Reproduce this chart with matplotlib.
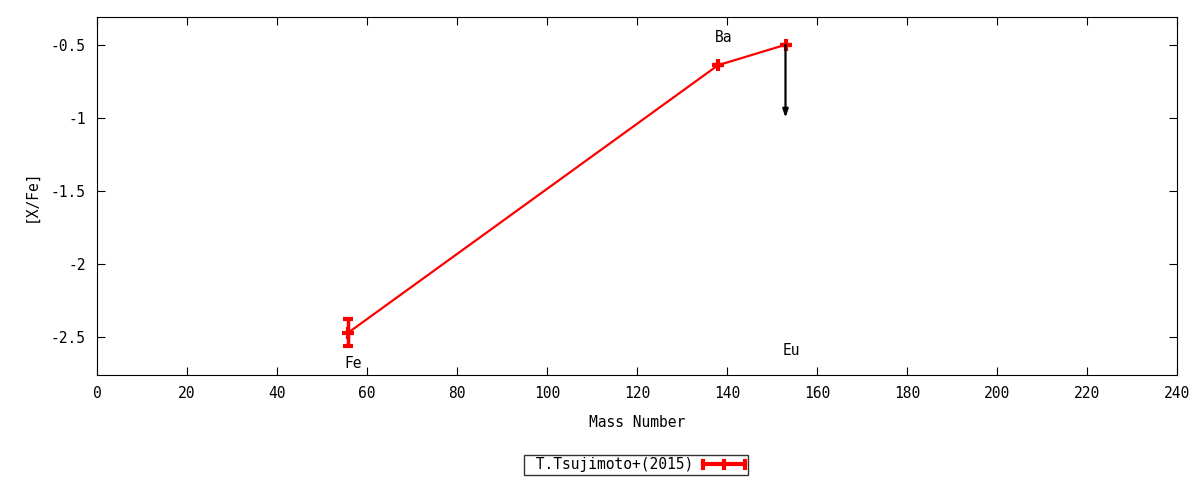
import matplotlib
matplotlib.use("Agg")
import matplotlib.pyplot as plt
from matplotlib.legend_handler import HandlerBase
from matplotlib.lines import Line2D

elements = ["Fe", "Ba", "Eu"]
mass = [55.85, 138.0, 153.0]
xfe = [-2.47, -0.64, -0.50]
err = [0.09, 0.0, 0.0]
upper_limit = [False, False, True]
label_pos = [(57.0, -2.68), (139.3, -0.45), (154.3, -2.59)]
arrow_to = -1.0
series_label = "T.Tsujimoto+(2015)"
xticks = list(range(0, 241, 20))
yticks = [-2.5, -2.0, -1.5, -1.0, -0.5]

plt.rcParams['font.family'] = ['DejaVu Sans Mono']
plt.rcParams['font.size'] = 10.5


class ErrHandler(HandlerBase):
    def create_artists(self, legend, orig_handle, xdescent, ydescent, width, height, fontsize, trans):
        y = height / 2 - ydescent
        x0, x1 = -xdescent, -xdescent + width
        xm = (x0 + x1) / 2
        hh = height * 0.32
        arts = [Line2D([x0, x1], [y, y], color='red', lw=3)]
        for xx in (x0, xm, x1):
            arts.append(Line2D([xx, xx], [y - hh, y + hh], color='red', lw=3))
        for a in arts:
            a.set_transform(trans)
        return arts


fig = plt.figure(figsize=(12, 4.8), dpi=100)
ax = fig.add_axes([97/1200, 1-375/480, 1080/1200, 358/480])

h = ax.errorbar(mass, xfe, yerr=err, color='red', lw=1.6, marker='+', ms=8, mew=3,
                elinewidth=2.5, capsize=3.5, capthick=2.5, label=series_label)

for m, v, u in zip(mass, xfe, upper_limit):
    if u:
        ax.annotate("", xy=(m, arrow_to), xytext=(m, v),
                    arrowprops=dict(arrowstyle='-|>,head_length=0.45,head_width=0.15',
                                    color='black', lw=1.6, shrinkA=0, shrinkB=0))

for name, (lx, ly) in zip(elements, label_pos):
    ax.text(lx, ly, name, ha='center', va='center', fontsize=10.5)

ax.set_xlim(0, 240)
ax.set_ylim(-2.76, -0.31)
ax.set_xticks(xticks)
ax.set_yticks(yticks)
ax.set_yticklabels(["%g" % t for t in yticks])
ax.tick_params(direction='in', top=True, right=True, length=6, pad=8)
ax.set_xlabel("Mass Number", labelpad=10)
ax.set_ylabel("[X/Fe]")
ax.yaxis.set_label_coords(-58/1080, 0.5)

leg = ax.legend(handles=[h], labels=[" " + series_label], handler_map={type(h): ErrHandler()},
                loc='center', bbox_to_anchor=(636/1200, 1-465/480), bbox_transform=fig.transFigure,
                markerfirst=False, frameon=True, fancybox=False, edgecolor='black',
                borderpad=0.15, handlelength=2.9, handletextpad=0.7, borderaxespad=0)
leg.get_frame().set_linewidth(1.0)

fig.savefig("out.png", dpi=100)
